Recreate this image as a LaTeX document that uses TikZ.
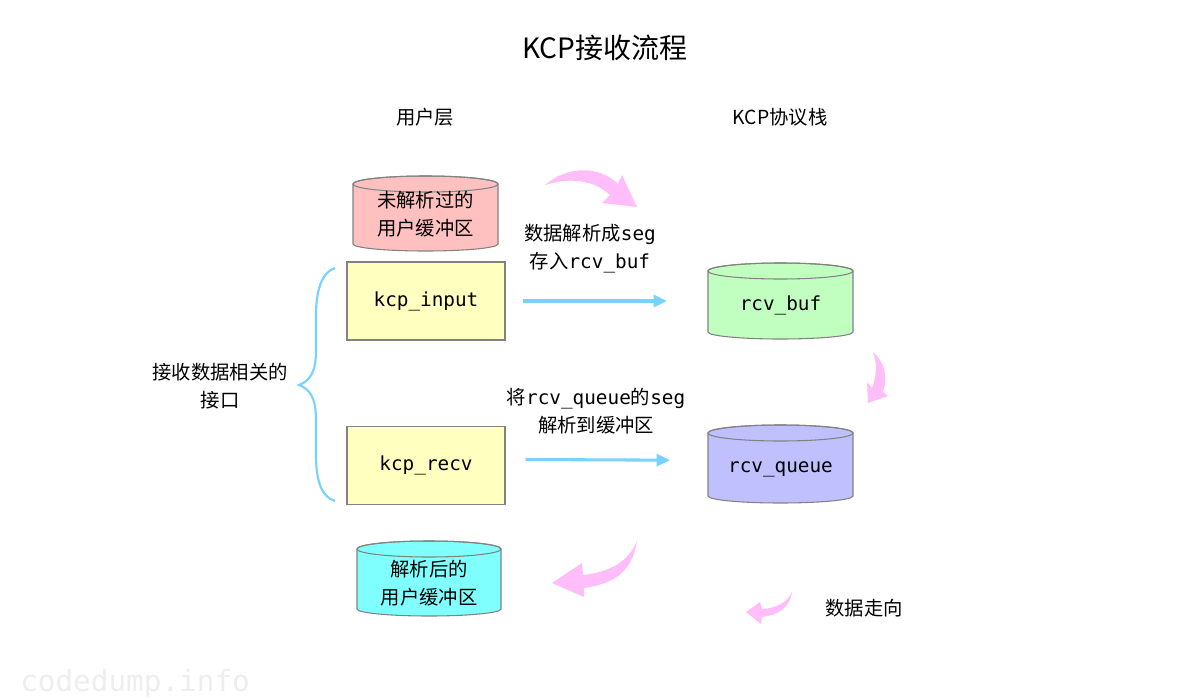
\documentclass[tikz,border=0pt]{standalone}
\usepackage{fontspec}
\setmainfont{Noto Sans CJK SC}
\newfontfamily\monof{DejaVu Sans Mono}
\usetikzlibrary{arrows.meta}
\definecolor{cylborder}{RGB}{130,130,130}
\definecolor{pinkfill}{RGB}{255,192,192}
\definecolor{greenfill}{RGB}{192,255,192}
\definecolor{purplefill}{RGB}{192,192,255}
\definecolor{cyanfill}{RGB}{128,255,255}
\definecolor{yellowfill}{RGB}{255,255,192}
\definecolor{flowblue}{RGB}{120,210,255}
\definecolor{flowpink}{RGB}{255,190,250}
\definecolor{wmark}{RGB}{238,238,238}
\newcommand\mycyl[8]{%
  \filldraw[fill=#6, draw=cylborder, line width=0.8pt]
    ({#2-#5},{#3+8}) -- ({#2-#5},{#4-7})
    arc[start angle=180,end angle=0,x radius=#5,y radius=7]
    -- ({#2+#5},{#3+8})
    arc[start angle=0,end angle=-180,x radius=#5,y radius=8] -- cycle;
  \draw[cylborder, line width=0.8pt] ({#2},{#3+8}) ellipse[x radius=#5, y radius=8];
  \coordinate (#1-w) at ({#2-#5},{#7});
  \node[lbl] (#1) at ({#2},{#7}) {#8};
}
\begin{document}
\begin{tikzpicture}[x=0.75pt,y=-0.75pt,
  lbl/.style={font=\fontsize{14.5pt}{21pt}\selectfont, align=center, inner sep=0pt},
  monolbl/.style={font=\monof\fontsize{14.5pt}{21pt}\selectfont, inner sep=0pt},
  box/.style={draw=cylborder, fill=yellowfill, line width=0.8pt, minimum width=118.5pt, minimum height=58.5pt, inner sep=0pt},
  bluearrow/.style={draw=flowblue, line width=2.3pt, -{Triangle[length=10pt,width=9pt]}},
  pinkarrow/.style={fill=flowpink, draw=none}]
\useasboundingbox (0,0) rectangle (1200,700);
\fill[white] (0,0) rectangle (1200,700);

% title and headers
\node[font=\fontsize{21pt}{25pt}\selectfont, inner sep=0pt] (title) at (605,48) {KCP接收流程};
\node[lbl] (user) at (425,117) {用户层};
\node[lbl] (kcp) at (780,117) {KCP协议栈};

% cylinders
\mycyl{raw}{425.5}{176}{251}{72.5}{pinkfill}{214}{未解析过的\\用户缓冲区}
\mycyl{buf}{780.5}{263}{339}{72.5}{greenfill}{305}{\monof rcv\_buf}
\mycyl{queue}{780.5}{425}{503}{72.5}{purplefill}{469}{\monof rcv\_queue}
\mycyl{parsed}{429}{541}{616}{72}{cyanfill}{583}{解析后的\\用户缓冲区}

% boxes
\node[box] (kin) at (426,301) {};
\node[monolbl] (kintext) at (426,301) {kcp\_input};
\node[box] (krecv) at (426,465.5) {};
\node[monolbl] (krecvtext) at (426,465.5) {kcp\_recv};

% labels
\node[lbl] (l1) at (590,249) {数据解析成{\monof seg}\\存入{\monof rcv\_buf}};
\node[lbl] (l2) at (596,411) {将{\monof rcv\_queue}的{\monof seg}\\解析到缓冲区};
\node[lbl] (l3) at (220,386) {接收数据相关的\\接口};
\node[lbl] (legend) at (864,608) {数据走向};

% blue arrows
\draw[bluearrow] ([xshift=13pt]kin.east) -- ([xshift=-30.75pt]buf-w |- kin.east);
\draw[bluearrow] ([xshift=15pt,yshift=4.5pt]krecv.east) -- ([xshift=-28.5pt,yshift=4pt]queue-w |- krecv.east);

% brace
\draw[flowblue, line width=1.6pt] (335,268) .. controls (322,272) and (316,290) .. (316,315)
  -- (316,350) .. controls (316,372) and (310,381) .. (299,385)
  .. controls (310,389) and (316,398) .. (316,420)
  -- (316,455) .. controls (316,482) and (322,497) .. (335,501);

% pink flow arrows
\fill[pinkarrow] (545,185) .. controls (568,165) and (600,166) .. (618,184)
  -- (622,175) -- (637,207) -- (602,203) -- (610,195)
  .. controls (594,180) and (570,177) .. (545,185) -- cycle;
\fill[pinkarrow] (873,352) .. controls (885,362) and (888,378) .. (883,392)
  -- (888,396) -- (868,403) -- (867,382) -- (872,388)
  .. controls (877,375) and (877,362) .. (873,352) -- cycle;
\fill[pinkarrow] (637,541) .. controls (632,575) and (610,584) .. (584,588)
  -- (584,597) -- (552,583) -- (582,563) -- (583,575)
  .. controls (610,572) and (628,562) .. (637,541) -- cycle;
\fill[pinkarrow] (792,592) .. controls (790,608) and (778,615) .. (762,617)
  -- (761,624) -- (746,612) -- (760,602) -- (762,609)
  .. controls (776,608) and (787,603) .. (792,592) -- cycle;

% watermark
\node[font=\monof\fontsize{22pt}{26pt}\selectfont, text=wmark, inner sep=0pt, anchor=west] (wm) at (20,683) {codedump.info};
\end{tikzpicture}
\end{document}
